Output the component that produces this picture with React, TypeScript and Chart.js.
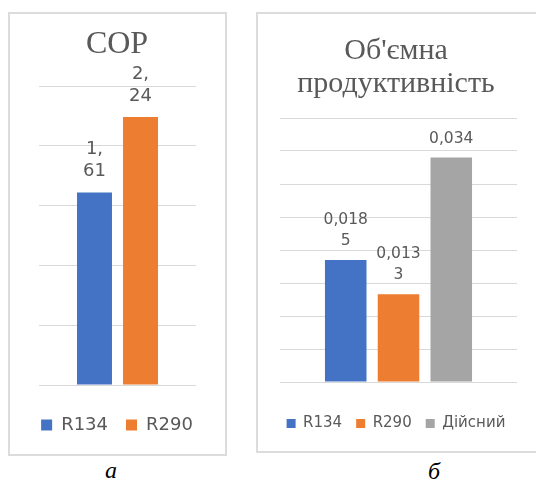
import React, { useEffect, useRef } from "react";
import { Chart, registerables } from "chart.js";

Chart.register(...registerables);

// ---------- data ----------
const copCategories = [""];
const copSeriesNames = ["R134", "R290"];
const copValues = [1.61, 2.24];
const copLabelLines = [["1,", "61"], ["2,", "24"]];
const copTicks = [0, 0.5, 1, 1.5, 2, 2.5];
const copTitle = "COP";

const volCategories = [""];
const volSeriesNames = ["R134", "R290", "Дійсний"];
const volValues = [0.0185, 0.0133, 0.034];
const volLabelLines = [["0,018", "5"], ["0,013", "3"], ["0,034"]];
const volTicks = [0, 0.005, 0.01, 0.015, 0.02, 0.025, 0.03, 0.035, 0.04];
const volTitle = ["Об'ємна", "продуктивність"];

const seriesColors = ["#4472C4", "#ED7D31", "#A5A5A5"];
const textColor = "#595959";
const gridColor = "#D9D9D9";

const barLabelPlugin = {
  id: "barLabels",
  afterDatasetsDraw(chart: any, _args: any, opts: any) {
    const { ctx } = chart;
    ctx.save();
    ctx.font = `${opts.size}px "DejaVu Sans"`;
    ctx.fillStyle = opts.color;
    ctx.textAlign = "center";
    ctx.textBaseline = "middle";
    chart.data.datasets.forEach((_ds: any, i: number) => {
      const meta = chart.getDatasetMeta(i);
      meta.data.forEach((bar: any) => {
        const lines: string[] = opts.lines[i];
        const n = lines.length;
        lines.forEach((line, k) => {
          ctx.fillText(line, bar.x, bar.y - opts.offset - (n - 1 - k) * opts.lineGap);
        });
      });
    });
    ctx.restore();
  },
};

type PanelProps = {
  width: number;
  height: number;
  categories: string[];
  names: string[];
  values: number[];
  labelLines: string[][];
  ticks: number[];
  title: string | string[];
  titleSize: number;
  titleLineHeight: number;
  titlePad: { top: number; bottom: number };
  legendSize: number;
  legendBox: number;
  legendPad: number;
  labelSize: number;
  labelOffset: number;
  labelGap: number;
  leftW: number;
  rightW: number;
  xH: number;
  bottomPad: number;
  catPct: number;
  barPct: number;
};

function ChartPanel(p: PanelProps) {
  const ref = useRef<HTMLCanvasElement | null>(null);
  useEffect(() => {
    if (!ref.current) return;
    const chart = new Chart(ref.current, {
      type: "bar",
      data: {
        labels: p.categories,
        datasets: p.names.map((name, i) => ({
          label: name,
          data: [p.values[i]],
          backgroundColor: seriesColors[i],
          borderWidth: 0,
          categoryPercentage: p.catPct,
          barPercentage: p.barPct,
          yAxisID: "y",
        })),
      },
      options: {
        responsive: false,
        animation: false,
        layout: { padding: { top: 0, bottom: p.bottomPad, left: 0, right: 0 } },
        plugins: {
          title: {
            display: true,
            text: p.title,
            color: textColor,
            font: { family: "Liberation Serif", size: p.titleSize, weight: "normal", lineHeight: p.titleLineHeight },
            padding: p.titlePad,
          },
          legend: {
            position: "bottom",
            labels: {
              boxWidth: p.legendBox,
              boxHeight: p.legendBox,
              color: textColor,
              font: { family: "DejaVu Sans", size: p.legendSize },
              padding: p.legendPad,
            },
          },
          tooltip: { enabled: false },
          barLabels: {
            lines: p.labelLines,
            size: p.labelSize,
            color: textColor,
            offset: p.labelOffset,
            lineGap: p.labelGap,
          },
        } as any,
        scales: {
          x: {
            display: true,
            grid: { display: false },
            ticks: { display: false },
            border: { display: false },
            afterFit: (a: any) => {
              a.height = p.xH;
            },
          },
          y: {
            min: p.ticks[0],
            max: p.ticks[p.ticks.length - 1],
            ticks: { display: false, stepSize: p.ticks[1] - p.ticks[0] },
            grid: { color: gridColor, lineWidth: 1, drawTicks: false },
            border: { display: false },
            afterFit: (a: any) => {
              a.width = p.leftW;
            },
          },
          yR: {
            position: "right",
            display: true,
            grid: { display: false },
            ticks: { display: false },
            border: { display: false },
            afterFit: (a: any) => {
              a.width = p.rightW;
            },
          },
        },
      },
      plugins: [barLabelPlugin],
    } as any);
    return () => chart.destroy();
  }, []);
  return <canvas ref={ref} width={p.width} height={p.height} style={{ display: "block", width: p.width, height: p.height }} />;
}

export default function App() {
  return (
    <div
      style={{
        position: "fixed",
        left: 0,
        top: 0,
        width: 536,
        height: 481,
        overflow: "hidden",
        background: "#fff",
      }}
    >
      <div
        style={{
          position: "absolute",
          left: 8,
          top: 12,
          width: 219,
          height: 444,
          border: "2px solid #DCDCDC",
          boxSizing: "border-box",
        }}
      />
      <div
        style={{
          position: "absolute",
          left: 256,
          top: 12,
          width: 320,
          height: 441,
          border: "2px solid #DCDCDC",
          boxSizing: "border-box",
        }}
      />
      <div style={{ position: "absolute", left: 8, top: 12 }}>
        <ChartPanel
          width={218}
          height={443}
          categories={copCategories}
          names={copSeriesNames}
          values={copValues}
          labelLines={copLabelLines}
          ticks={copTicks}
          title={copTitle}
          titleSize={32}
          titleLineHeight={1.2}
          titlePad={{ top: 13, bottom: 22.6 }}
          legendSize={18}
          legendBox={11}
          legendPad={18}
          labelSize={18}
          labelOffset={21}
          labelGap={22}
          leftW={31}
          rightW={30}
          xH={13}
          bottomPad={11}
          catPct={0.586}
          barPct={0.76}
        />
      </div>
      <div style={{ position: "absolute", left: 256, top: 12 }}>
        <ChartPanel
          width={280}
          height={440}
          categories={volCategories}
          names={volSeriesNames}
          values={volValues}
          labelLines={volLabelLines}
          ticks={volTicks}
          title={volTitle}
          titleSize={30}
          titleLineHeight={1.1}
          titlePad={{ top: 22.5, bottom: 17.5 }}
          legendSize={15}
          legendBox={9}
          legendPad={14}
          labelSize={15.5}
          labelOffset={19}
          labelGap={21}
          leftW={24}
          rightW={19}
          xH={20}
          bottomPad={11}
          catPct={0.668}
          barPct={0.787}
        />
      </div>
      <div
        style={{
          position: "absolute",
          left: 81,
          top: 458,
          width: 60,
          textAlign: "center",
          fontFamily: "Liberation Serif",
          fontStyle: "italic",
          fontSize: 24,
          lineHeight: "24px",
        }}
      >
        а
      </div>
      <div
        style={{
          position: "absolute",
          left: 404,
          top: 459,
          width: 60,
          textAlign: "center",
          fontFamily: "Liberation Serif",
          fontStyle: "italic",
          fontSize: 24,
          lineHeight: "24px",
        }}
      >
        б
      </div>
    </div>
  );
}
